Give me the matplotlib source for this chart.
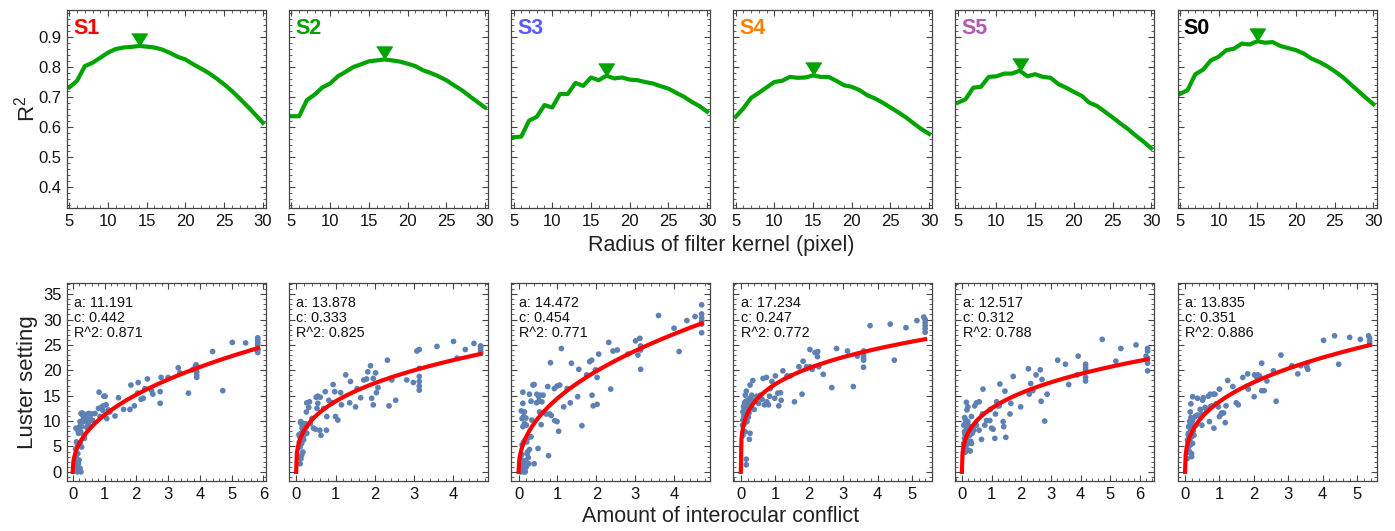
import numpy as np
import matplotlib
matplotlib.use("Agg")
import matplotlib.pyplot as plt
from matplotlib.ticker import MultipleLocator

plt.rcParams["font.family"] = ["Liberation Sans", "DejaVu Sans"]
plt.rcParams["mathtext.default"] = "regular"

# subjects and their label colours
subjects = ["S1", "S2", "S3", "S4", "S5", "S0"]
label_colors = ["#ff0000", "#00a000", "#5a5aff", "#ff8000", "#b05ab0", "#000000"]

# top row: R^2 vs radius of filter kernel
radius = list(range(5, 31))
r2_s1 = [0.732, 0.754, 0.803, 0.814, 0.831, 0.848, 0.860, 0.865, 0.867, 0.870, 0.868, 0.865,
         0.858, 0.847, 0.834, 0.825, 0.809, 0.795, 0.780, 0.762, 0.742, 0.720, 0.695, 0.669,
         0.642, 0.614]
r2_s2 = [0.636, 0.636, 0.690, 0.708, 0.732, 0.745, 0.769, 0.784, 0.800, 0.809, 0.819, 0.822,
         0.825, 0.822, 0.818, 0.811, 0.803, 0.789, 0.780, 0.769, 0.756, 0.739, 0.723, 0.703,
         0.684, 0.665]
r2_s3 = [0.566, 0.568, 0.621, 0.634, 0.673, 0.665, 0.710, 0.710, 0.747, 0.737, 0.765, 0.756,
         0.771, 0.762, 0.765, 0.758, 0.756, 0.750, 0.745, 0.736, 0.728, 0.714, 0.701, 0.684,
         0.670, 0.651]
r2_s4 = [0.634, 0.662, 0.697, 0.714, 0.732, 0.750, 0.754, 0.767, 0.764, 0.765, 0.772, 0.767,
         0.767, 0.754, 0.739, 0.734, 0.723, 0.706, 0.695, 0.681, 0.665, 0.649, 0.632, 0.612,
         0.593, 0.577]
r2_s5 = [0.681, 0.692, 0.731, 0.734, 0.767, 0.769, 0.778, 0.778, 0.788, 0.769, 0.776, 0.767,
         0.764, 0.743, 0.731, 0.717, 0.704, 0.681, 0.670, 0.651, 0.632, 0.612, 0.593, 0.571,
         0.551, 0.529]
r2_s0 = [0.710, 0.723, 0.776, 0.791, 0.822, 0.834, 0.856, 0.861, 0.878, 0.875, 0.886, 0.881,
         0.883, 0.870, 0.863, 0.856, 0.845, 0.828, 0.817, 0.803, 0.786, 0.767, 0.744, 0.721,
         0.698, 0.676]
r2_curves = [r2_s1, r2_s2, r2_s3, r2_s4, r2_s5, r2_s0]

# bottom row: luster setting vs amount of interocular conflict
s1_x = [0.07, 0.13, 0.18, 0.20, 0.10, 0.23, 0.15, 0.26, 0.07, 0.12, 0.20, 0.05, 0.16,
        0.15, 0.23, 0.28, 0.34, 0.37, 0.10, 0.16, 0.21, 0.28, 0.23, 0.34, 0.39, 0.30, 0.46,
        0.52, 0.55, 0.60, 0.70, 0.63, 0.86, 0.81, 0.83, 0.96, 1.02, 0.98, 1.05, 1.07, 1.12,
        1.17, 1.33, 1.44, 1.60, 1.80, 1.83, 1.94, 2.04, 2.06, 2.15, 2.22, 2.27, 2.35, 2.48,
        2.52, 2.75, 2.75, 2.78, 3.00, 3.32, 3.37, 3.64, 3.77, 3.85, 3.88, 3.90, 3.90, 3.90,
        3.90, 3.90, 4.40, 4.72, 5.02, 5.44, 5.82, 5.82, 5.82, 5.82, 5.82, 5.82, 5.82, 5.77,
        0.26, 0.34, 0.44, 0.49, 0.42, 0.18, 0.12, 0.09, 0.25, 0.31, 0.40, 0.47, 0.90, 0.95]
s1_y = [0.3, 1.0, 1.6, 2.3, 3.0, 0.7, 0.0, 0.0, 2.0, 1.3, 0.5, 0.8, 3.6,
        5.3, 5.6, 4.9, 7.2, 6.6, 8.6, 8.2, 8.9, 8.9, 9.9, 10.5, 10.9, 11.6, 11.4,
        11.5, 10.5, 11.4, 11.5, 10.1, 10.9, 12.5, 15.7, 13.0, 14.9, 14.9, 13.2, 10.5, 12.2,
        11.8, 11.0, 14.6, 12.3, 12.3, 17.1, 13.0, 15.5, 17.6, 14.3, 14.5, 16.4, 18.3, 16.0,
        15.3, 15.8, 13.5, 18.6, 18.6, 20.5, 19.5, 15.5, 20.1, 20.6, 21.1, 19.7, 18.6, 19.1,
        20.4, 20.9, 23.7, 16.0, 25.5, 25.4, 26.4, 26.0, 25.5, 25.0, 24.3, 24.0, 23.5, 24.1,
        11.5, 9.9, 8.8, 9.5, 10.3, 7.6, 5.9, 4.5, 7.9, 11.2, 10.7, 9.0, 12.7, 12.1]

s2_x = [0.10, 0.12, 0.14, 0.17, 0.10, 0.14, 0.19, 0.09, 0.12, 0.17, 0.20, 0.14, 0.23,
        0.26, 0.12, 0.27, 0.36, 0.40, 0.26, 0.32, 0.27, 0.34, 0.44, 0.49, 0.53, 0.55, 0.51,
        0.55, 0.61, 0.60, 0.63, 0.70, 0.74, 0.77, 0.78, 0.83, 0.91, 0.94, 1.00, 0.98, 1.06,
        1.13, 1.15, 1.26, 1.36, 1.38, 1.51, 1.55, 1.64, 1.72, 1.79, 1.82, 1.89, 1.92, 1.96,
        1.96, 2.02, 2.04, 2.08, 2.32, 2.36, 2.43, 2.53, 2.81, 2.98, 3.07, 3.13, 3.13, 3.13,
        3.13, 3.13, 3.13, 3.58, 4.00, 4.09, 4.30, 4.52, 4.69, 4.69, 4.69, 4.69, 4.69,
        0.07, 0.15, 0.18, 0.22, 0.08, 0.11, 0.16, 0.21, 0.13, 0.06, 0.19, 0.24]
s2_y = [1.6, 2.6, 3.3, 3.9, 4.9, 5.6, 6.3, 6.9, 7.6, 8.2, 8.9, 9.5, 9.5,
        8.9, 9.9, 7.6, 9.5, 10.5, 11.8, 12.7, 13.6, 13.8, 8.6, 8.4, 12.5, 13.5, 14.7,
        14.9, 14.7, 8.2, 7.2, 12.5, 15.8, 8.2, 10.9, 14.1, 13.6, 17.2, 10.9, 15.8, 10.2,
        15.6, 13.2, 19.1, 13.6, 17.8, 12.8, 16.4, 14.6, 18.1, 18.3, 19.7, 20.9, 14.5, 18.4,
        13.2, 19.5, 15.6, 16.6, 22.0, 13.0, 18.1, 14.1, 18.1, 17.6, 23.8, 24.1, 18.8, 17.8,
        16.9, 16.1, 20.4, 24.7, 25.7, 22.4, 24.1, 25.3, 24.7, 24.2, 23.7, 23.4, 24.8,
        7.3, 8.6, 9.2, 8.0, 5.8, 9.7, 9.0, 8.5, 6.1, 3.0, 7.1, 9.3]

s3_x = [0.06, 0.09, 0.13, 0.17, 0.06, 0.11, 0.20, 0.06, 0.26, 0.40, 0.22, 0.23, 0.28,
        0.09, 0.13, 0.17, 0.22, 0.28, 0.32, 0.11, 0.15, 0.09, 0.13, 0.20, 0.34, 0.11, 0.15,
        0.11, 0.28, 0.32, 0.37, 0.40, 0.46, 0.47, 0.52, 0.56, 0.52, 0.54, 0.50, 0.58, 0.63,
        0.60, 0.71, 0.75, 0.77, 0.82, 0.80, 0.84, 0.92, 0.93, 0.99, 0.99, 1.03, 1.06, 1.10,
        1.16, 1.25, 1.33, 1.36, 1.52, 1.55, 1.63, 1.75, 1.83, 1.88, 1.89, 1.92, 1.98, 2.02,
        2.02, 2.06, 2.32, 2.37, 2.43, 2.54, 2.81, 3.01, 3.07, 3.12, 3.14, 3.14, 3.14, 3.60,
        4.00, 4.13, 4.33, 4.54, 4.71, 4.71, 4.71, 4.71, 4.71, 4.71,
        0.10, 0.14, 0.18, 0.08, 0.12, 0.16, 0.21, 0.07, 0.19, 0.25]
s3_y = [0.0, 0.3, 0.7, 0.0, 1.0, 1.6, 1.0, 2.6, 1.6, 1.6, 3.6, 3.9, 4.4,
        5.3, 5.9, 6.3, 6.6, 6.9, 6.9, 8.9, 9.5, 10.5, 10.9, 9.2, 10.2, 13.5, 11.8,
        15.7, 15.3, 13.9, 17.1, 17.2, 13.6, 15.3, 14.8, 15.1, 13.9, 11.8, 4.6, 9.3, 15.1,
        13.8, 11.4, 16.8, 3.2, 21.5, 11.4, 11.1, 16.4, 10.1, 16.9, 9.9, 8.0, 17.1, 24.3,
        12.8, 16.4, 13.6, 21.4, 14.8, 20.2, 9.1, 19.1, 21.7, 22.0, 15.1, 13.0, 20.1, 13.3,
        18.6, 23.2, 25.5, 16.3, 23.8, 24.0, 23.2, 25.8, 23.0, 26.3, 24.8, 24.0, 20.2, 30.8,
        28.3, 23.7, 29.8, 30.6, 32.9, 31.1, 30.3, 29.7, 29.1, 27.4,
        0.5, 0.0, 2.2, 3.4, 5.6, 0.4, 5.9, 12.0, 10.6, 2.8]

s4_x = [0.16, 0.16, 0.25, 0.06, 0.13, 0.27, 0.10, 0.18, 0.06, 0.10, 0.13, 0.06, 0.18,
        0.10, 0.23, 0.16, 0.25, 0.13, 0.20, 0.27, 0.13, 0.16, 0.27, 0.35, 0.32, 0.37, 0.39,
        0.47, 0.52, 0.57, 0.62, 0.65, 0.69, 0.75, 0.76, 0.81, 0.84, 0.86, 0.91, 0.99, 1.01,
        1.08, 1.11, 1.16, 1.18, 1.23, 1.35, 1.45, 1.57, 1.70, 1.79, 1.82, 1.92, 2.02, 2.02,
        2.09, 2.17, 2.24, 2.25, 2.28, 2.41, 2.66, 2.80, 3.12, 3.29, 3.41, 3.59, 3.59, 3.59,
        3.59, 3.59, 3.78, 4.37, 4.49, 4.83, 5.15, 5.35, 5.39, 5.39, 5.39, 5.39, 5.39,
        0.08, 0.12, 0.15, 0.20, 0.22, 0.09, 0.14, 0.19, 0.11, 0.24, 0.05, 0.17]
s4_y = [2.5, 1.4, 6.4, 7.2, 7.9, 7.6, 9.4, 9.9, 10.2, 10.9, 11.5, 11.8, 11.8,
        12.5, 12.2, 13.2, 13.5, 13.8, 14.1, 14.5, 15.1, 15.9, 17.1, 18.0, 15.1, 14.1, 12.3,
        14.9, 13.5, 15.1, 14.3, 18.4, 13.2, 18.6, 13.8, 13.2, 14.9, 16.4, 17.8, 14.5, 18.9,
        15.5, 13.0, 15.6, 14.1, 19.9, 18.9, 18.9, 13.8, 20.7, 15.3, 21.8, 20.7, 24.1, 20.7,
        20.2, 23.5, 22.7, 23.7, 20.7, 19.2, 16.6, 24.3, 23.8, 16.8, 22.8, 23.8, 23.0, 22.4,
        22.0, 20.6, 28.8, 29.1, 22.0, 28.4, 29.8, 30.5, 30.0, 29.4, 28.8, 28.2, 27.5,
        12.9, 12.0, 11.2, 13.0, 10.8, 11.0, 12.7, 12.4, 13.6, 11.6, 9.2, 10.5]

s5_x = [0.06, 0.12, 0.20, 0.28, 0.06, 0.15, 0.24, 0.32, 0.09, 0.17, 0.26, 0.35, 0.09,
        0.15, 0.24, 0.40, 0.06, 0.12, 0.20, 0.09, 0.17, 0.15, 0.20, 0.32, 0.37, 0.43, 0.49,
        0.58, 0.49, 0.58, 0.66, 0.69, 0.71, 0.77, 0.83, 0.94, 0.96, 1.00, 1.05, 1.11, 1.13,
        1.17, 1.19, 1.26, 1.28, 1.39, 1.41, 1.45, 1.48, 1.62, 1.65, 1.73, 1.98, 2.24, 2.27,
        2.32, 2.39, 2.50, 2.64, 2.67, 2.70, 2.79, 2.87, 3.23, 3.49, 3.60, 3.88, 3.92, 4.17,
        4.17, 4.17, 4.17, 4.17, 4.17, 4.73, 5.19, 5.36, 5.87, 6.21, 6.26, 6.26, 6.26, 6.26,
        6.26, 0.10, 0.14, 0.18, 0.22, 0.26, 0.08, 0.12, 0.30]
s5_y = [3.9, 3.9, 4.3, 4.1, 5.6, 5.3, 5.7, 5.6, 6.6, 6.9, 7.2, 7.6, 7.9,
        8.4, 8.6, 8.2, 9.2, 9.5, 9.9, 10.7, 12.2, 13.7, 12.8, 10.9, 8.9, 13.0, 13.6,
        13.8, 9.2, 8.2, 6.4, 11.4, 16.3, 9.2, 10.1, 10.1, 12.3, 8.6, 8.4, 6.6, 11.4,
        13.8, 13.0, 13.0, 17.3, 9.9, 8.9, 15.9, 6.8, 11.4, 13.5, 18.8, 12.8, 20.3, 15.3,
        17.4, 16.0, 19.1, 20.1, 13.9, 18.2, 10.0, 15.3, 22.0, 21.2, 17.2, 19.1, 22.8, 21.2,
        20.7, 20.2, 19.7, 18.6, 17.9, 26.1, 21.8, 24.3, 25.0, 22.8, 24.3, 23.8, 22.4, 21.4,
        19.9, 7.4, 8.0, 6.2, 9.1, 7.8, 5.0, 10.3, 6.0]

s0_x = [0.07, 0.13, 0.19, 0.19, 0.10, 0.15, 0.22, 0.07, 0.13, 0.19, 0.26, 0.10, 0.17,
        0.24, 0.10, 0.19, 0.13, 0.22, 0.32, 0.17, 0.29, 0.36, 0.42, 0.49, 0.15, 0.17, 0.22,
        0.36, 0.44, 0.49, 0.51, 0.53, 0.58, 0.63, 0.68, 0.71, 0.73, 0.73, 0.78, 0.83, 0.84,
        0.87, 0.90, 0.97, 1.00, 1.00, 1.05, 1.07, 1.12, 1.17, 1.19, 1.24, 1.39, 1.49, 1.55,
        1.68, 1.78, 1.82, 1.84, 2.01, 2.02, 2.09, 2.12, 2.17, 2.23, 2.23, 2.30, 2.38, 2.57,
        2.65, 2.79, 3.11, 3.28, 3.37, 3.54, 3.57, 3.57, 4.03, 4.35, 4.47, 4.79, 5.10, 5.34,
        5.37, 5.37, 5.37, 0.08, 0.12, 0.16, 0.20, 0.11, 0.14, 0.25, 0.06, 0.18, 0.09]
s0_y = [3.9, 3.8, 3.0, 3.6, 4.9, 5.3, 5.6, 6.3, 6.6, 6.9, 7.2, 7.6, 7.9,
        8.1, 8.9, 9.2, 9.9, 10.2, 9.2, 10.7, 10.9, 11.2, 11.0, 11.4, 11.8, 13.4, 14.8,
        14.5, 12.3, 9.2, 14.1, 14.6, 12.7, 12.0, 14.9, 9.9, 12.8, 15.3, 13.0, 15.3, 8.6,
        15.3, 13.4, 12.8, 10.9, 16.3, 11.4, 11.6, 11.6, 9.7, 13.0, 18.0, 16.8, 13.6, 13.2,
        18.6, 16.8, 19.3, 16.3, 14.8, 19.1, 18.6, 19.1, 18.8, 21.4, 16.0, 16.0, 17.9, 19.9,
        13.9, 23.0, 20.9, 19.3, 20.9, 20.7, 20.2, 21.5, 25.9, 26.8, 21.2, 26.5, 26.1, 26.8,
        26.3, 25.7, 25.2, 5.8, 7.0, 8.4, 9.6, 4.2, 6.1, 8.9, 2.6, 10.4, 7.3]

scatter_x = [s1_x, s2_x, s3_x, s4_x, s5_x, s0_x]
scatter_y = [s1_y, s2_y, s3_y, s4_y, s5_y, s0_y]

# power fits y = a * x^c
fit_a = [11.191, 13.878, 14.472, 17.234, 12.517, 13.835]
fit_c = [0.442, 0.333, 0.454, 0.247, 0.312, 0.351]
fit_r2 = [0.871, 0.825, 0.771, 0.772, 0.788, 0.886]

bottom_xlims = [(-0.18, 6.08), (-0.18, 4.88), (-0.19, 4.93), (-0.22, 5.6), (-0.22, 6.49), (-0.22, 5.57)]
bottom_xticks = [range(0, 7), range(0, 5), range(0, 5), range(0, 6), range(0, 7), range(0, 6)]

W, H = 1395, 531
fig = plt.figure(figsize=(W / 100, H / 100), dpi=100)

green = "#00a300"
pt_color = "#5e81b5"
frame_color = "#444444"
tri = [(-7.5, 12), (7.5, 12), (0, 0)]


def style_frame(ax):
    for sp in ax.spines.values():
        sp.set_color(frame_color)
        sp.set_linewidth(0.9)
    ax.tick_params(which="both", direction="in", top=True, right=True,
                   color=frame_color, labelsize=12, labelcolor="#111111")
    ax.tick_params(which="major", length=4.5, width=0.8, pad=4)
    ax.tick_params(which="minor", length=2.5, width=0.6)


for i in range(6):
    left = (67 + 222.1 * i) / W
    w = 199 / W

    # top row
    ax = fig.add_axes([left, 1 - 208 / H, w, 198 / H])
    r2 = r2_curves[i]
    ax.plot(radius, r2, color=green, lw=3.0, solid_joinstyle="round")
    k = int(np.argmax(r2))
    ax.plot([radius[k]], [r2[k]], marker=tri, markersize=18, color=green, lw=0)
    ax.set_xlim(4.7, 30.4)
    ax.set_ylim(0.33, 0.99)
    ax.set_xticks([5, 10, 15, 20, 25, 30])
    ax.xaxis.set_minor_locator(MultipleLocator(1))
    ax.set_yticks([0.4, 0.5, 0.6, 0.7, 0.8, 0.9])
    ax.yaxis.set_minor_locator(MultipleLocator(0.02))
    style_frame(ax)
    if i > 0:
        ax.set_yticklabels([])
    ax.text(0.03, 0.909, subjects[i], transform=ax.transAxes, color=label_colors[i],
            fontsize=15.5, fontweight="bold", ha="left", va="center")

    # bottom row
    ax = fig.add_axes([left, 1 - 481 / H, w, 198 / H])
    xs = np.array(scatter_x[i])
    ys = np.array(scatter_y[i])
    ax.scatter(xs, ys, s=17, color=pt_color, edgecolors="none", zorder=2)
    xf = np.linspace(0, xs.max(), 300)
    ax.plot(xf, fit_a[i] * xf ** fit_c[i], color="#ff0000", lw=3.0, zorder=3)
    ax.set_xlim(*bottom_xlims[i])
    ax.set_ylim(-1.8, 37.2)
    ax.set_xticks(list(bottom_xticks[i]))
    ax.xaxis.set_minor_locator(MultipleLocator(0.2))
    ax.set_yticks(range(0, 36, 5))
    ax.yaxis.set_minor_locator(MultipleLocator(1))
    style_frame(ax)
    if i > 0:
        ax.set_yticklabels([])
    lines = [f"a: {fit_a[i]:.3f}", f"c: {fit_c[i]:.3f}", f"R^2: {fit_r2[i]:.3f}"]
    for j, t in enumerate(lines):
        ax.text(0.037, 0.897 - 0.0757 * j, t, transform=ax.transAxes, fontsize=10.4,
                color="#111111", ha="left", va="center")

fig.text(27 / W, 1 - 109 / H, "R$^2$", rotation=90, fontsize=16, color="#222222",
         ha="center", va="center")
fig.text(27 / W, 1 - 382 / H, "Luster setting", rotation=90, fontsize=16, color="#222222",
         ha="center", va="center")
fig.text(721 / W, 1 - 246 / H, "Radius of filter kernel (pixel)", fontsize=15.5,
         color="#222222", ha="center", va="center")
fig.text(721 / W, 1 - 517 / H, "Amount of interocular conflict", fontsize=15.5,
         color="#222222", ha="center", va="center")

fig.savefig("out.png", dpi=100)
